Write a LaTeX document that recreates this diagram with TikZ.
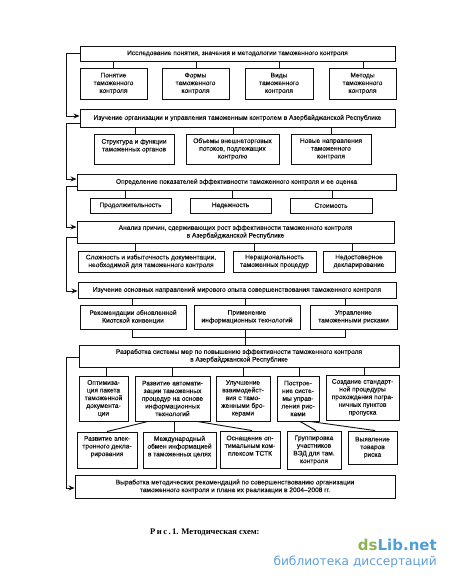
\documentclass[tikz,border=0pt]{standalone}
\usepackage{fontspec}
\setmainfont{Liberation Sans}
\newfontfamily\capfont{Liberation Serif}
\newfontfamily\markfont{DejaVu Sans}
\usetikzlibrary{arrows.meta}
\definecolor{mkgreen}{HTML}{8DB255}
\definecolor{mkblue}{HTML}{4F9FD2}
\definecolor{mksub}{HTML}{5E9ED6}
\definecolor{ink}{HTML}{111111}
\newcommand{\bx}[6]{\node[boxnode,minimum width={(#4-#2)*1bp},minimum height={(#5-#3)*1bp}] (#1) at ({(#2+#4)/2},{(#3+#5)/2}) {#6};}
\tikzset{
  boxnode/.style={draw=ink,line width=0.9bp,inner sep=0pt,align=center,text=ink,
    font=\fontsize{6.6bp}{7.7bp}\selectfont\addfontfeatures{FakeBold=0.25}},
  link/.style={draw=ink,line width=0.9bp},
  rail/.style={draw=ink,line width=0.9bp,-{Stealth[length=6bp,width=5bp]}}
}
\begin{document}
\begin{tikzpicture}[x=1bp,y=-1bp]
\useasboundingbox (0,0) rectangle (450,582);
\bx{a}{80}{46}{395}{61}{Исследование понятия, значения и методологии таможенного контроля}
\bx{a1}{80}{68}{147}{99}{Понятие\\таможенного\\контроля}
\bx{a2}{162}{68}{229}{99}{Формы\\таможенного\\контроля}
\bx{a3}{245}{68}{313}{99}{Виды\\таможенного\\контроля}
\bx{a4}{329}{68}{396}{99}{Методы\\таможенного\\контроля}
\bx{b}{80}{109}{395}{127}{Изучение организации и управления таможенным контролем в Азербайджанской Республике}
\bx{b1}{94}{134}{174}{164}{Структура и функции\\таможенных органов\\~}
\bx{b2}{186}{134}{279}{164}{Объемы внешнеторговых\\потоков, подлежащих\\контролю}
\bx{b3}{291}{134}{371}{164}{Новые направления\\таможенного\\контроля}
\bx{c}{77}{174}{396}{190}{Определение показателей эффективности таможенного контроля и ее оценка}
\bx{c1}{90}{198}{171}{213}{Продолжительность}
\bx{c2}{190}{198}{271}{213}{Надежность}
\bx{c3}{290}{198}{372}{213}{Стоимость}
\bx{d}{77}{221}{394}{243}{Анализ причин, сдерживающих рост эффективности таможенного контроля\\в Азербайджанской Республике}
\bx{d1}{78}{251}{224}{272}{Сложность и избыточность документации,\\необходимой для таможенного контроля}
\bx{d2}{233}{251}{316}{272}{Нерациональность\\таможенных процедур}
\bx{d3}{323}{251}{395}{272}{Недостоверное\\декларирование}
\bx{e}{78}{282}{396}{298}{Изучение основных направлений мирового опыта совершенствования таможенного контроля}
\bx{e1}{80}{305}{186}{329}{Рекомендации обновленной\\Киотской конвенции}
\bx{e2}{194}{305}{300}{329}{Применение\\информационных технологий}
\bx{e3}{310}{305}{397}{329}{Управление\\таможенными рисками}
\bx{f}{79}{345}{399}{367}{Разработка системы мер по повышению эффективности таможенного контроля\\в Азербайджанской Республике}
\bx{f1}{79}{376}{128}{421}{Оптимиза-\\ция пакета\\таможенной\\документа-\\ции}
\bx{f2}{135}{376}{210}{421}{Развитие автомати-\\зации таможенных\\процедур на основе\\информационных\\технологий}
\bx{f3}{216}{376}{270}{421}{Улучшение\\взаимодейст-\\вия с тамо-\\женными бро-\\керами}
\bx{f4}{277}{376}{319}{421}{Построе-\\ние систе-\\мы управ-\\ления рис-\\ками}
\bx{f5}{326}{375}{399}{420}{Создание стандарт-\\ной процедуры\\прохождения погра-\\ничных пунктов\\пропуска}
\bx{g1}{77}{432}{137}{468}{Развитие элек-\\тронного декла-\\рирования\\~}
\bx{g2}{143}{432}{216}{468}{Международный\\обмен информацией\\в таможенных целях\\~}
\bx{g3}{220}{431}{280}{468}{Оснащение оп-\\тимальным ком-\\плексом ТСТК\\~}
\bx{g4}{287}{431}{341}{469}{Группировка\\участников\\ВЭД для там.\\контроля}
\bx{g5}{348}{431}{397}{464}{Выявление\\товаров\\риска}
\bx{h}{75}{475}{395}{498}{Выработка методических рекомендаций по совершенствованию организации\\таможенного контроля и плана их реализации в 2004–2008 гг.}
% stems
\foreach \s/\t/\xx in {a/a1/113,a/a2/196,a/a3/279,a/a4/363,
  b/b1/135,b/b2/233,b/b3/331,
  c/c1/125,c/c2/232,c/c3/332,
  d/d1/135,d/d2/254,d/d3/352,
  e/e1/132,e/e2/245,e/e3/345,
  f/f1/106,f/f2/172,f/f3/243,f/f4/299,f/f5/364}
  \draw[link] (\s.south -| \xx,0) -- (\t.north -| \xx,0);
% branches of the lower row
\draw[link] (f2.south -| 148,0) -- (g1.north -| 107,0);
\draw[link] (f2.south -| 174,0) -- (g2.north -| 174,0);
\draw[link] (f2.south -| 197,0) -- (g3.north -| 252,0);
\draw[link] (f4.south -| 300,0) -- (g4.north -| 316,0);
\draw[link] (f4.south -| 310,0) -- (g5.north -| 375,0);
% bracket under the experience boxes
\coordinate (brL) at (132,337);
\coordinate (brR) at (345,337);
\draw[link] (e1.south -| brL) -- (brL) -- (brR) -- (e3.south -| brR);
\draw[link] (e2.south -| 245,0) -- (f.north -| 245,0);
% left rail
\draw[rail] (a.west) -- (66,53.5) |- (b.west |- 0,116);
\draw[rail] (b.west |- 0,123) -- (66,123) |- (c.west |- 0,179);
\draw[rail] (c.west |- 0,186) -- (66,186) |- (d.west |- 0,227);
\draw[rail] (d.west |- 0,237) -- (66,237) |- (e.west |- 0,291);
\draw[rail] (f.west |- 0,357) -- (66,357) |- (h.west |- 0,488);
% caption and mark
\node[anchor=west,inner sep=0pt,font=\capfont\bfseries\fontsize{8.6bp}{10bp}\selectfont] (cap) at (150,532.5) {Р\,и\,с\,.\,1. Методическая схем:};
\node[anchor=east,inner sep=0pt,font=\markfont\bfseries\fontsize{15bp}{17bp}\selectfont] (mark) at (437,545) {\textcolor{mkgreen}{ds}\textcolor{mkblue}{Lib.net}};
\node[anchor=east,inner sep=0pt,text=mksub,font=\markfont\fontsize{12.2bp}{14bp}\selectfont] (sub) at (437,562) {библиотека диссертаций};
\end{tikzpicture}
\end{document}
